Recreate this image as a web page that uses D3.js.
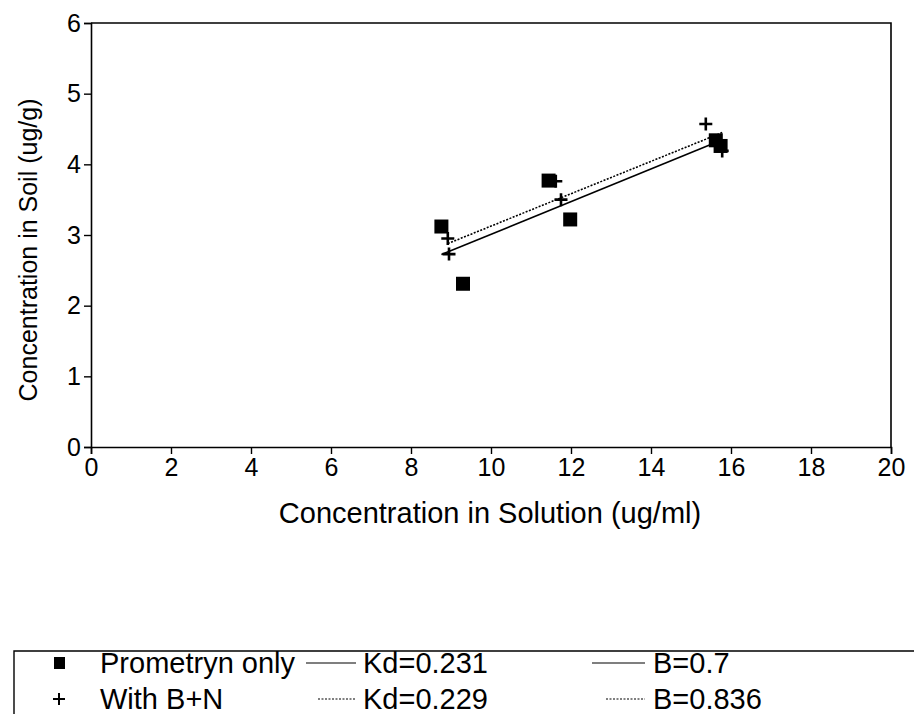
<!DOCTYPE html>
<html>
<head>
<meta charset="utf-8">
<script src="https://cdn.jsdelivr.net/npm/d3@7"></script>
<style>
  html, body { margin: 0; padding: 0; background: #fff; }
  svg { display: block; font-family: "Liberation Sans", Arial, sans-serif; }
</style>
</head>
<body>
<svg id="chart" width="914" height="714"></svg>
<script>
// Axis ticks
const xTicks = [0, 2, 4, 6, 8, 10, 12, 14, 16, 18, 20];
const yTicks = [0, 1, 2, 3, 4, 5, 6];

// Prometryn only (squares)
const promX = [8.76, 9.30, 11.44, 11.98, 15.62, 15.74];
const promY = [3.12, 2.31, 3.77, 3.22, 4.34, 4.26];

// With B+N (plus signs)
const bnX = [8.92, 8.95, 11.62, 11.75, 15.37, 15.78];
const bnY = [2.95, 2.73, 3.76, 3.50, 4.57, 4.19];

// Linear fits: soil = B + Kd * solution
const seriesNames = ["Prometryn only", "With B+N"];
const kdValues = [0.231, 0.229];
const bValues = [0.7, 0.836];

const svg = d3.select("#chart");
const plot = { left: 91, right: 891, top: 23, bottom: 447 };

const x = d3.scaleLinear().domain([0, 20]).range([plot.left, plot.right]);
const y = d3.scaleLinear().domain([0, 6]).range([plot.bottom, plot.top]);

// Frame (top and right edges)
svg.append("path")
  .attr("d", `M${plot.left},${plot.top}H${plot.right}V${plot.bottom}`)
  .attr("fill", "none").attr("stroke", "#000").attr("stroke-width", 1.6);

// Axes
const xAxis = svg.append("g")
  .attr("transform", `translate(0,${plot.bottom})`)
  .call(d3.axisBottom(x).tickValues(xTicks).tickSize(7).tickPadding(4).tickFormat(d3.format("d")));
const yAxis = svg.append("g")
  .attr("transform", `translate(${plot.left},0)`)
  .call(d3.axisLeft(y).tickValues(yTicks).tickSize(7).tickPadding(3).tickFormat(d3.format("d")));

[xAxis, yAxis].forEach(g => {
  g.select(".domain").attr("stroke", "#000").attr("stroke-width", 1.6);
  g.selectAll(".tick line").attr("stroke", "#000").attr("stroke-width", 1.4);
  g.selectAll(".tick text")
    .attr("fill", "#000")
    .style("font-family", "'Liberation Sans', Arial, sans-serif")
    .style("font-size", "25px");
});

// Axis titles
svg.append("text")
  .attr("x", 490)
  .attr("y", 523)
  .attr("text-anchor", "middle")
  .style("font-size", "29px")
  .text("Concentration in Solution (ug/ml)");

svg.append("text")
  .attr("transform", `translate(37,250) rotate(-90)`)
  .attr("text-anchor", "middle")
  .style("font-size", "25px")
  .text("Concentration in Soil (ug/g)");

// Fit lines over each series' x-extent
const fitStyles = [null, "2,1.5"];
const seriesX = [promX, bnX];
seriesX.forEach((xs, i) => {
  const [x0, x1] = d3.extent(xs);
  const pts = [x0, x1].map(v => [v, bValues[i] + kdValues[i] * v]);
  svg.append("path")
    .datum(pts)
    .attr("d", d3.line().x(d => x(d[0])).y(d => y(d[1])))
    .attr("fill", "none")
    .attr("stroke", "#000")
    .attr("stroke-width", 1.6)
    .attr("stroke-dasharray", fitStyles[i]);
});

// Markers
const sq = 14;
svg.append("g").selectAll("rect")
  .data(d3.zip(promX, promY))
  .join("rect")
  .attr("x", d => x(d[0]) - sq / 2)
  .attr("y", d => y(d[1]) - sq / 2)
  .attr("width", sq).attr("height", sq)
  .attr("fill", "#000");

const arm = 6.5;
svg.append("g").selectAll("path")
  .data(d3.zip(bnX, bnY))
  .join("path")
  .attr("d", d => `M${x(d[0]) - arm},${y(d[1])}H${x(d[0]) + arm}M${x(d[0])},${y(d[1]) - arm}V${y(d[1]) + arm}`)
  .attr("stroke", "#000")
  .attr("stroke-width", 2.6)
  .attr("fill", "none");

// Legend box (top and left edges)
const legTop = 651;
svg.append("path")
  .attr("d", `M914,${legTop}H14V714`)
  .attr("fill", "none").attr("stroke", "#000").attr("stroke-width", 1.4);

const rowY = [663, 699];
const legend = svg.append("g").style("font-size", "29px");

// Row markers
legend.append("rect")
  .attr("x", 54).attr("y", rowY[0] - 6).attr("width", 11).attr("height", 12).attr("fill", "#000");
legend.append("path")
  .attr("d", `M53,${rowY[1]}H65M59,${rowY[1] - 6}V${rowY[1] + 6}`)
  .attr("stroke", "#000").attr("stroke-width", 2);

seriesNames.forEach((name, i) => {
  const cy = rowY[i];
  legend.append("text").attr("x", 100).attr("y", cy).attr("dy", "0.35em").text(name);
  legend.append("line")
    .attr("x1", i === 0 ? 306 : 318).attr("x2", 356).attr("y1", cy).attr("y2", cy)
    .attr("stroke", "#000").attr("stroke-width", 1.2)
    .attr("stroke-dasharray", fitStyles[i]);
  legend.append("text").attr("x", 363).attr("y", cy).attr("dy", "0.35em").text(`Kd=${kdValues[i]}`);
  legend.append("line")
    .attr("x1", i === 0 ? 592 : 606).attr("x2", 645).attr("y1", cy).attr("y2", cy)
    .attr("stroke", "#000").attr("stroke-width", 1.2)
    .attr("stroke-dasharray", fitStyles[i]);
  legend.append("text").attr("x", 653).attr("y", cy).attr("dy", "0.35em").text(`B=${bValues[i]}`);
});
</script>
</body>
</html>
